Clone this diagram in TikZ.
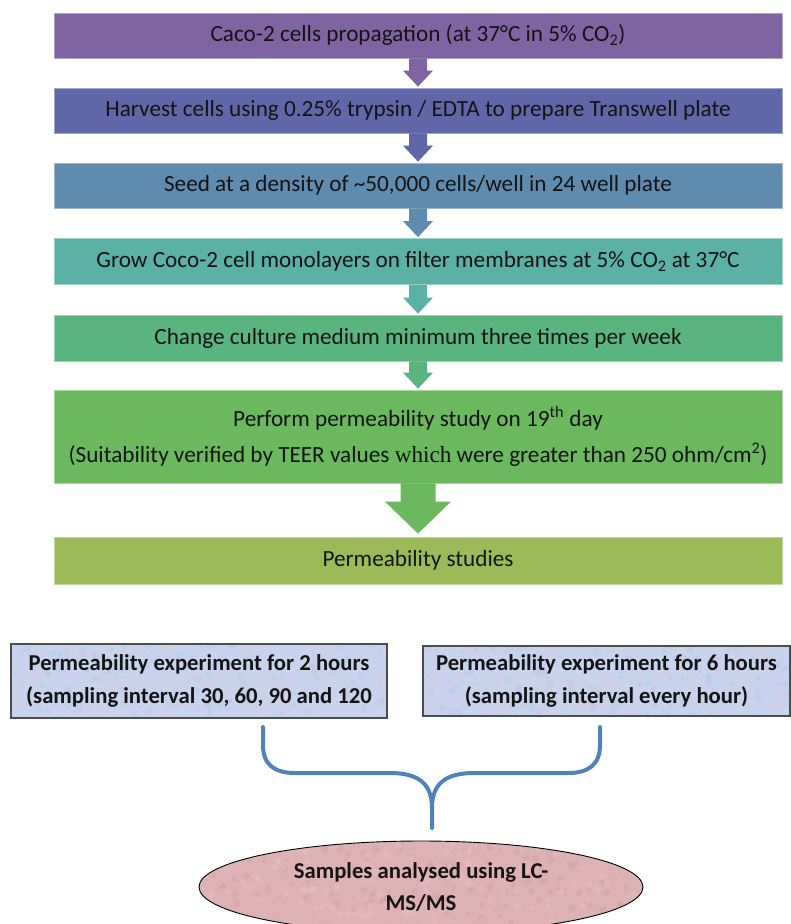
\documentclass[tikz,border=0pt]{standalone}
\usepackage{fontspec}
\setmainfont{Carlito}
\newfontfamily\whichfont{Liberation Serif}
\usetikzlibrary{calc,shapes.geometric}
\definecolor{cA}{HTML}{8064A2}
\definecolor{cB}{HTML}{6067A8}
\definecolor{cC}{HTML}{5E8BAE}
\definecolor{cD}{HTML}{5CB1A7}
\definecolor{cE}{HTML}{5AB47D}
\definecolor{cF}{HTML}{6BB85E}
\definecolor{cG}{HTML}{9BBB59}
\definecolor{bracecol}{HTML}{4F81BD}
\definecolor{expfill}{HTML}{C8D4EE}
\definecolor{exppink}{HTML}{E2C6DC}
\definecolor{expblue}{HTML}{B3C8EA}
\definecolor{ellfill}{HTML}{DDB2B5}
\definecolor{elllight}{HTML}{E8C6C8}
\newcommand\mottle[5]{% colour1, colour2, seed, width, height
  \pgfmathsetseed{#3}%
  \foreach \k in {1,...,420}{%
    \pgfmathsetmacro\ux{rnd*#4}%
    \pgfmathsetmacro\uy{rnd*#5}%
    \pgfmathsetmacro\ur{1+3*rnd}%
    \pgfmathsetmacro\uc{rnd}%
    \ifdim\uc pt<0.5pt
      \fill[#1,opacity=0.35] ($(path picture bounding box.south west)+(\ux pt,\uy pt)$) circle (\ur pt);
    \else
      \fill[#2,opacity=0.35] ($(path picture bounding box.south west)+(\ux pt,\uy pt)$) circle (\ur pt);
    \fi
  }%
}
\newcommand\blockarrow[7]{% from, to, colour, shaft half, head half, head base offset, tip offset
  \fill[#3] ($(#1.south)+(-#4,0)$) -- ($(#1.south)+(#4,0)$)
    -- ($(#2.north)+(#4,-#6)$) -- ($(#2.north)+(#5,-#6)$)
    -- ($(#2.north)+(0,-#7)$)
    -- ($(#2.north)+(-#5,-#6)$) -- ($(#2.north)+(-#4,-#6)$) -- cycle;
}
\tikzset{
  stepbox/.style={rectangle, fill=#1, draw=#1!60!white, line width=0.8pt,
    minimum width=728pt, inner sep=0pt, text=black!92,
    font=\fontsize{23.2}{36}\selectfont, align=center},
  expbox/.style={rectangle, draw=black!70, line width=1.3pt, fill=expfill,
    inner sep=0pt, text=black!92, font=\bfseries\fontsize{22.7}{33}\selectfont, align=center},
  ellbox/.style={ellipse, draw=black, line width=0.9pt, fill=ellfill,
    inner sep=0pt, text=black!92, font=\bfseries\fontsize{22.7}{32}\selectfont, align=center},
  bracestyle/.style={draw=bracecol, line width=4pt, line cap=round, line join=round}
}
\begin{document}
\begin{tikzpicture}[x=1pt,y=-1pt]
\useasboundingbox (0,0) rectangle (791,924);

\node[stepbox=cA, minimum height=45pt] (b1) at (418,35.5)
  {Caco-2 cells propagation (at 37°C in 5\% CO\textsubscript{2})};
\node[stepbox=cB, minimum height=45pt] (b2) at (418,110.5)
  {Harvest cells using 0.25\% trypsin / EDTA to prepare Transwell plate};
\node[stepbox=cC, minimum height=45pt] (b3) at (418,185.5)
  {Seed at a density of \textasciitilde 50,000 cells/well in 24 well plate};
\node[stepbox=cD, minimum height=46pt] (b4) at (418,261.5)
  {Grow Coco-2 cell monolayers on filter membranes at 5\% CO\textsubscript{2} at 37°C};
\node[stepbox=cE, minimum height=46pt] (b5) at (418,338)
  {Change culture medium minimum three times per week};
\node[stepbox=cF, minimum height=93pt] (b6) at (418,436.5)
  {Perform permeability study on 19\textsuperscript{th} day\\
   (Suitability verified by TEER values {\whichfont which} were greater than 250 ohm/cm\textsuperscript{2})};
\node[stepbox=cG, minimum height=47pt] (b7) at (418,560.5)
  {Permeability studies};

\blockarrow{b1}{b2}{cA}{9}{15}{17}{1}
\blockarrow{b2}{b3}{cB}{9}{15}{17}{1}
\blockarrow{b3}{b4}{cC}{9}{15}{17}{1}
\blockarrow{b4}{b5}{cD}{9}{15}{17}{1}
\blockarrow{b5}{b6}{cE}{9}{15}{17}{1}
\blockarrow{b6}{b7}{cF}{17.5}{33}{35}{3}

\node[expbox, minimum width=376pt, minimum height=74pt,
  path picture={\mottle{exppink}{expblue}{7}{376}{74}}] (e1) at (199,681)
  {Permeability experiment for 2 hours\\(sampling interval 30, 60, 90 and 120};
\node[expbox, minimum width=367pt, minimum height=70pt,
  path picture={\mottle{exppink}{expblue}{11}{367}{70}}] (e2) at (606.5,681)
  {Permeability experiment for 6 hours\\(sampling interval every hour)};

\node[ellbox, minimum width=444pt, minimum height=92pt,
  path picture={\mottle{elllight}{ellfill!90!black}{5}{444}{92}}] (ell) at (421,887)
  {Samples analysed using LC-\\MS/MS};

\coordinate (bl) at (263,727);
\coordinate (br) at (600,727);
\coordinate (bt) at (432,828);
\draw[bracestyle] (bl) -- (263,745) .. controls (263,765) and (275,773) .. (295,773)
  -- (390,773) .. controls (420,773) and (432,785) .. (432,808) -- (bt);
\draw[bracestyle] (br) -- (600,745) .. controls (600,765) and (588,773) .. (568,773)
  -- (474,773) .. controls (444,773) and (432,785) .. (432,808);
\end{tikzpicture}
\end{document}
